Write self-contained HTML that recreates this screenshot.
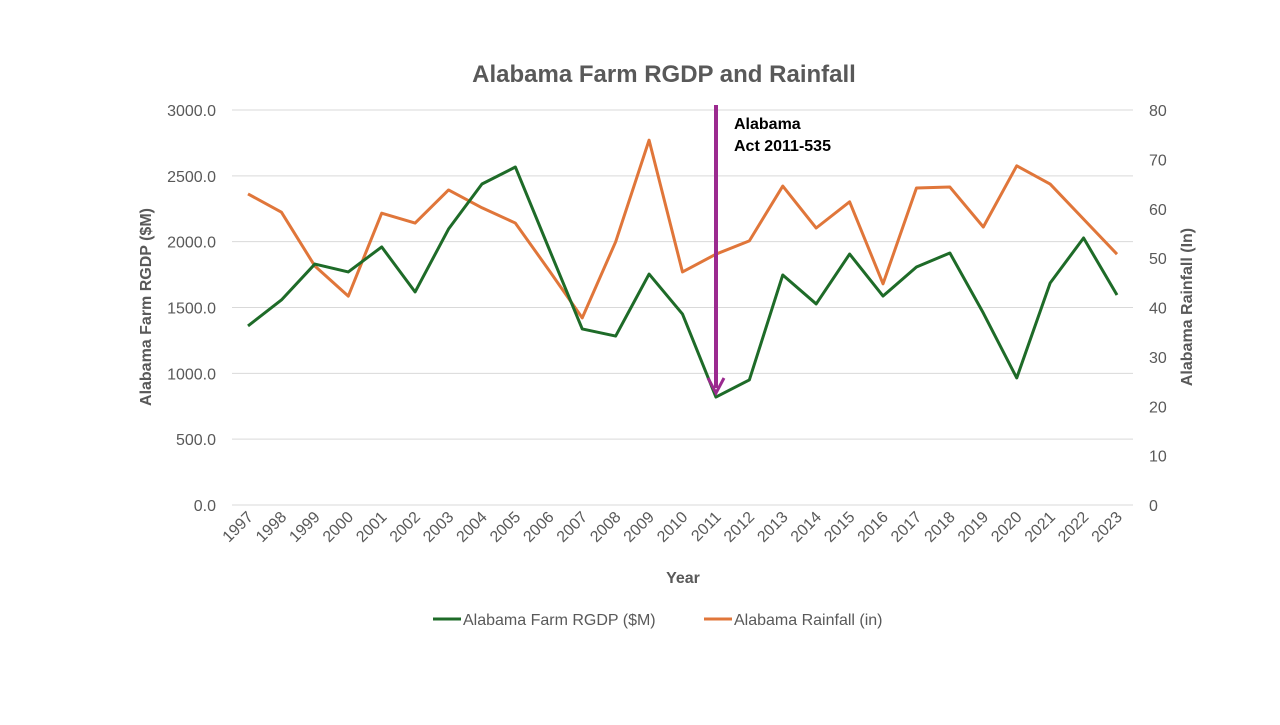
<!DOCTYPE html>
<html><head><meta charset="utf-8"><style>
body{margin:0;background:#fff;font-family:"Liberation Sans",sans-serif;}
svg text{font-family:"Liberation Sans",sans-serif;}
</style></head><body>
<svg id="chart" width="1280" height="720">
<text x="664" y="82" text-anchor="middle" font-size="24" font-weight="bold" fill="#595959">Alabama Farm RGDP and Rainfall</text>
<g id="grid"></g>
<g id="ylab"></g>
<g id="y2lab"></g>
<g id="xlab"></g>
<g id="series"></g>
<text transform="translate(151,307) rotate(-90)" text-anchor="middle" font-size="16" font-weight="bold" fill="#595959">Alabama Farm RGDP ($M)</text>
<text transform="translate(1192,307) rotate(-90)" text-anchor="middle" font-size="16" font-weight="bold" fill="#595959">Alabama Rainfall (In)</text>
<text x="683" y="583" text-anchor="middle" font-size="16" font-weight="bold" fill="#595959">Year</text>
<g>
<line x1="716" y1="105" x2="716" y2="388" stroke="#9b2a8f" stroke-width="4"/>
<polyline points="708,378 716,393 724,378" fill="none" stroke="#9b2a8f" stroke-width="3"/>
</g>
<text x="734" y="129" font-size="16" font-weight="bold" fill="#000"><tspan x="734">Alabama</tspan><tspan x="734" dy="22">Act 2011-535</tspan></text>
<g>
<g><line x1="433" y1="619" x2="461" y2="619" stroke="#1e6b28" stroke-width="3"/><text x="463" y="625" font-size="16" fill="#595959">Alabama Farm RGDP ($M)</text></g>
<g><line x1="704" y1="619" x2="732" y2="619" stroke="#e0763a" stroke-width="3"/><text x="734" y="625" font-size="16" fill="#595959">Alabama Rainfall (in)</text></g>
</g>
</svg>
<script>
const years=[1997,1998,1999,2000,2001,2002,2003,2004,2005,2006,2007,2008,2009,2010,2011,2012,2013,2014,2015,2016,2017,2018,2019,2020,2021,2022,2023];
const rgdp=[1360,1557,1830,1770,1960,1618,2096,2438,2567,1950,1337,1283,1754,1450,820,950,1747,1527,1906,1587,1808,1914,1458,965,1686,2028,1595];
const rain=[63.0,59.3,48.4,42.3,59.1,57.1,63.8,60.2,57.1,47.6,37.9,53.3,73.9,47.2,50.8,53.5,64.6,56.1,61.4,44.8,64.2,64.4,56.3,68.7,65.0,57.9,50.8];
const leftTicks=[0,500,1000,1500,2000,2500,3000];
const rightTicks=[0,10,20,30,40,50,60,70,80];
const NS="http://www.w3.org/2000/svg";
const x=i=>248+i*(1117-248)/(years.length-1);
const yL=v=>505-v*395/3000;
const yR=v=>505-v*395/80;
function mk(t,a,p){const e=document.createElementNS(NS,t);for(const k in a)e.setAttribute(k,a[k]);document.getElementById(p).appendChild(e);return e;}
leftTicks.forEach(v=>{
 const l=mk('line',{x1:232,x2:1133,y1:yL(v),y2:yL(v),stroke:'#d9d9d9','stroke-width':1},'grid');
 
 
 const t=mk('text',{x:216,y:yL(v)+6,'text-anchor':'end','font-size':16,fill:'#595959'},'ylab');
 t.textContent=v.toFixed(1);
 
 
});
rightTicks.forEach(v=>{
 const t=mk('text',{x:1149,y:yR(v)+6,'font-size':16,fill:'#595959'},'y2lab');
 t.textContent=v;
 
 
});
years.forEach((yr,i)=>{
 const t=mk('text',{'text-anchor':'end','font-size':16,fill:'#595959',transform:`translate(${x(i)+6},${518}) rotate(-45)`},'xlab');
 t.textContent=yr;
 
 
});
const p1=mk('polyline',{points:rain.map((v,i)=>x(i)+','+yR(v)).join(' '),fill:'none',stroke:'#e0763a','stroke-width':3,'stroke-linejoin':'round'},'series');


const p2=mk('polyline',{points:rgdp.map((v,i)=>x(i)+','+yL(v)).join(' '),fill:'none',stroke:'#1e6b28','stroke-width':3,'stroke-linejoin':'round'},'series');


</script>
</body></html>
